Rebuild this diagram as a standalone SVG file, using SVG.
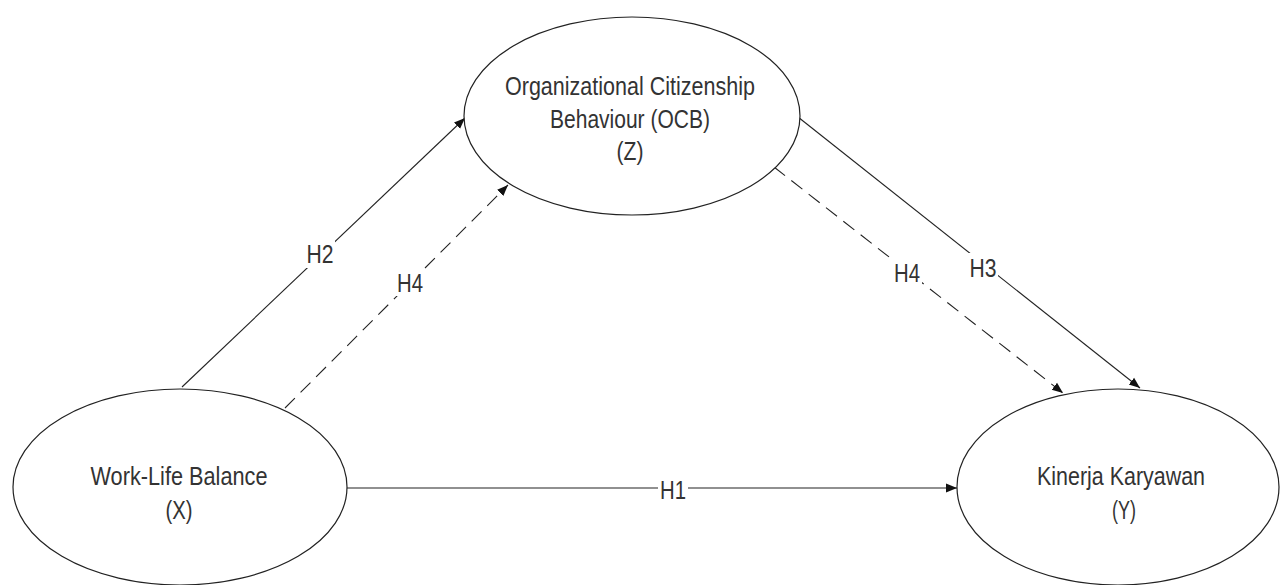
<svg xmlns="http://www.w3.org/2000/svg" width="1281" height="585" viewBox="0 0 1281 585">
<style>
.node ellipse{fill:#fff;stroke:#222;stroke-width:1.2}
.t{font-family:"Liberation Sans",Arial,sans-serif;font-size:25px;fill:#333;text-anchor:middle}
.lbl{font-family:"Liberation Sans",Arial,sans-serif;font-size:26px;fill:#333;text-anchor:middle}
.c{stroke:#222;stroke-width:1.1;fill:none;marker-end:url(#ah)}
.d{stroke-dasharray:14 8}
.bg{fill:#fff}
</style>
<defs>
<marker id="ah" viewBox="0 0 10 10" refX="10" refY="5" markerWidth="11" markerHeight="11" markerUnits="userSpaceOnUse" orient="auto">
<path d="M0,1 L10,5 L0,9 z" fill="#111"/>
</marker>
</defs>
<rect width="1281" height="585" fill="#fff"/>
<g id="connectors">
<line class="c" x1="182" y1="387" x2="465" y2="118"/>
<line class="c d" x1="285" y1="408" x2="508" y2="185"/>
<line class="c" x1="798" y1="117" x2="1140" y2="388"/>
<line class="c d" x1="774" y1="167" x2="1063" y2="393"/>
<line class="c" x1="347" y1="488" x2="957" y2="488"/>
<rect class="bg" x="305" y="240" width="30" height="28"/>
<text class="lbl" x="320" y="263" textLength="27" lengthAdjust="spacingAndGlyphs">H2</text>
<rect class="bg" x="395" y="268" width="30" height="28"/>
<text class="lbl" x="410" y="292" textLength="26" lengthAdjust="spacingAndGlyphs">H4</text>
<rect class="bg" x="968" y="253" width="30" height="28"/>
<text class="lbl" x="983" y="277" textLength="27" lengthAdjust="spacingAndGlyphs">H3</text>
<rect class="bg" x="892" y="258" width="30" height="28"/>
<text class="lbl" x="907" y="282" textLength="26" lengthAdjust="spacingAndGlyphs">H4</text>
<rect class="bg" x="658" y="476" width="30" height="26"/>
<text class="lbl" x="673" y="499" textLength="26" lengthAdjust="spacingAndGlyphs">H1</text>
</g>
<g id="node-z" class="node">
<ellipse cx="632" cy="116" rx="168" ry="99"/>
<text class="t" x="630" y="95" textLength="250" lengthAdjust="spacingAndGlyphs">Organizational Citizenship</text>
<text class="t" x="630" y="128" textLength="160" lengthAdjust="spacingAndGlyphs">Behaviour (OCB)</text>
<text class="t" x="630" y="160" textLength="27" lengthAdjust="spacingAndGlyphs">(Z)</text>
</g>
<g id="node-x" class="node">
<ellipse cx="180" cy="487" rx="167" ry="98"/>
<text class="t" x="179" y="485" textLength="177" lengthAdjust="spacingAndGlyphs">Work-Life Balance</text>
<text class="t" x="179" y="519" textLength="27" lengthAdjust="spacingAndGlyphs">(X)</text>
</g>
<g id="node-y" class="node">
<ellipse cx="1118" cy="487" rx="161" ry="98"/>
<text class="t" x="1121" y="485" textLength="168" lengthAdjust="spacingAndGlyphs">Kinerja Karyawan</text>
<text class="t" x="1124" y="519" textLength="24" lengthAdjust="spacingAndGlyphs">(Y)</text>
</g>
</svg>
